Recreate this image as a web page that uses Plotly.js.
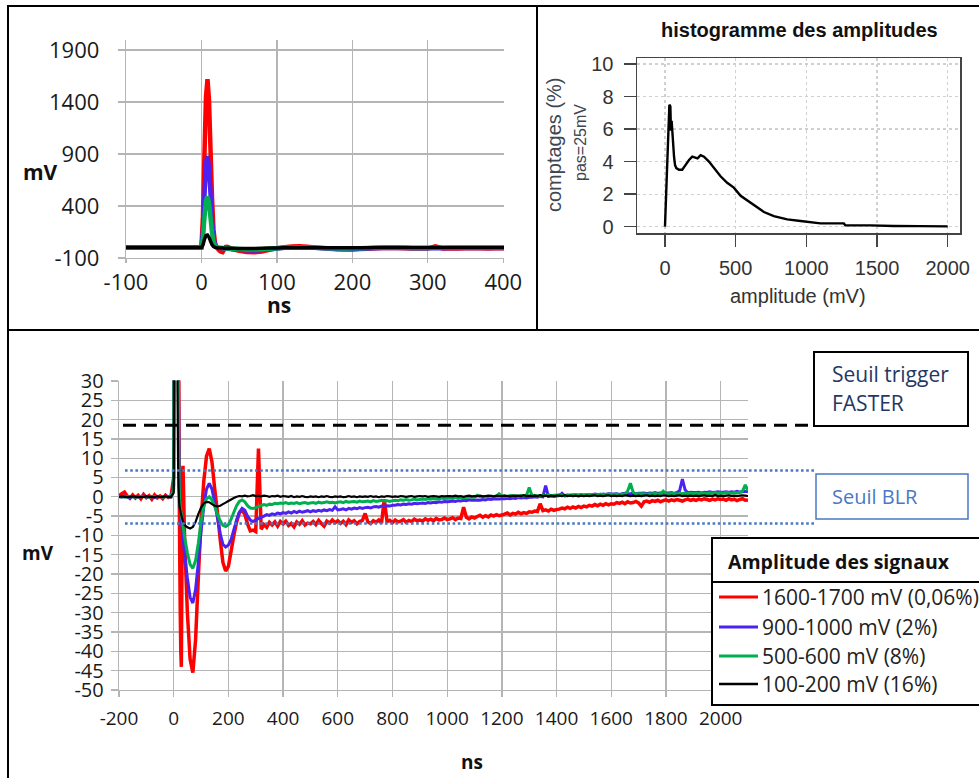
<!DOCTYPE html>
<html><head><meta charset="utf-8">
<script src="https://cdn.plot.ly/plotly-3.0.1.min.js"></script>
<style>html,body{margin:0;padding:0;background:#fff}#chart{width:979px;height:778px}</style>
</head><body><div id="chart"></div>
<script>
// ---------- DATA ----------
const timeNs = [
-200,-190,-180,-170,-160,-150,-140,-130,-120,-110,-100,-90,-80,-70,-60,-50,-40,-30,-20,-10,
0,2,4,6,8,10,12,14,16,18,20,22,24,26,28,30,32,34,36,38,40,
50,60,70,80,90,100,110,120,130,140,150,160,170,180,190,200,210,220,230,240,
250,260,270,280,290,300,310,320,330,340,350,360,370,380,390,400,
410,420,430,440,450,460,470,480,490,500,510,520,530,540,550,560,570,580,590,600,
610,620,630,640,650,660,670,680,690,700,710,720,730,740,750,760,770,780,790,800,
810,820,830,840,850,860,870,880,890,900,910,920,930,940,950,960,970,980,990,1000,
1010,1020,1030,1040,1050,1060,1070,1080,1090,1100,1110,1120,1130,1140,1150,1160,1170,1180,1190,1200,
1210,1220,1230,1240,1250,1260,1270,1280,1290,1300,1310,1320,1330,1340,1350,1360,1370,1380,1390,1400,
1410,1420,1430,1440,1450,1460,1470,1480,1490,1500,1510,1520,1530,1540,1550,1560,1570,1580,1590,1600,
1610,1620,1630,1640,1650,1660,1670,1680,1690,1700,1710,1720,1730,1740,1750,1760,1770,1780,1790,1800,
1810,1820,1830,1840,1850,1860,1870,1880,1890,1900,1910,1920,1930,1940,1950,1960,1970,1980,1990,2000,
2010,2020,2030,2040,2050,2060,2070,2080,2090,2100];

const red1600 = [
0.3,0.8,1.2,0.2,-0.4,0.5,-0.3,0.4,-0.5,0.6,-0.2,0.3,-0.6,0.5,-0.3,0.2,-0.5,0.4,-0.2,0.1,
5,300,900,1450,1620,1420,950,480,170,45,5,-15,-30,-40,-44,-20,6,8,2,-5,-11,
-30,-42,-45.5,-37,-21,-6,4,10.5,12.5,9,2,-4,-11,-17,-19.2,-18,-14,-10,-6.5,-4.2,
-3.4,-4.5,-7,-8.8,-8.6,-9,12.5,-8.4,-7.2,-7.9,-6.6,-7.3,-6.5,-7.6,-6.4,-7.0,
-6.3,-7.4,-6.9,-7.8,-6.5,-7.1,-6.2,-7.3,-6.8,-7.0,-6.4,-7.2,-6.1,-6.9,-7.6,-6.3,-6.8,-6.0,-6.7,-6.2,
-6.9,-6.3,-7.2,-6.0,-6.6,-6.2,-7.0,-6.4,-6.1,-4.3,-6.5,-6.9,-6.2,-6.6,-6.0,-6.8,-0.6,-6.4,-6.1,-6.7,
-6.0,-6.5,-6.3,-5.9,-6.6,-6.1,-6.4,-5.8,-6.2,-6.0,-6.3,-5.7,-6.1,-5.8,-6.2,-5.6,-6.0,-5.9,-5.5,-5.9,
-5.7,-5.4,-5.9,-5.5,-5.6,-2.7,-5.3,-5.7,-5.2,-5.5,-5.1,-4.8,-5.3,-4.9,-5.2,-4.7,-5.0,-4.6,-4.9,-4.7,
-4.5,-4.2,-4.7,-4.3,-4.5,-4.0,-4.4,-4.1,-4.3,-3.9,-4.0,-3.7,-3.8,-1.8,-3.6,-3.4,-3.7,-3.2,-3.5,-3.3,
-3.2,-2.9,-3.1,-2.7,-3.0,-2.6,-2.9,-2.5,-2.8,-2.4,-2.6,-2.2,-2.4,-2.0,-2.3,-1.9,-2.2,-1.8,-2.1,-1.8,
-1.9,-1.5,-1.7,-1.4,-1.8,-1.3,-1.6,-1.5,-1.2,-1.6,-2.4,-1.3,-1.1,-1.4,-1.0,-1.2,-0.9,-1.3,-1.0,-0.8,
-1.1,-0.8,-1.0,-0.7,-0.9,-1.1,-0.8,-0.6,-0.9,-0.7,-0.9,-0.6,-0.8,-0.5,-0.7,-0.9,-0.6,-0.8,-0.5,-0.7,
-0.6,-0.9,-0.5,-0.8,-0.6,-1.0,-0.7,-0.5,-0.9,-0.8];

const blue900 = [
0.1,-0.1,0.2,0,-0.2,0.1,0,-0.1,0.1,0.2,-0.1,0,0.1,-0.2,0,0.1,-0.1,0.2,0,-0.1,
3,160,500,800,880,770,520,260,95,28,6,-1,-3,-4.5,-6,-7.5,-9,-10.5,-12,-13.5,-15,
-21,-26,-27.5,-24,-17,-9,-2.5,2,3.5,2,-1.5,-5.5,-9.5,-12.3,-13,-12.5,-11,-8.5,-6,-4,
-3,-3.5,-5,-6,-6.4,-6.0,-5.6,-5.3,-5.0,-4.6,-4.8,-4.4,-4.6,-4.2,-4.4,-4.1,
-4.3,-3.9,-4.2,-3.8,-4.1,-3.7,-4.0,-3.8,-3.6,-3.9,-3.6,-3.8,-3.5,-3.7,-3.4,-3.6,-3.3,-3.5,-2.6,-3.4,
-3.3,-3.1,-3.4,-3.0,-3.2,-2.9,-3.1,-2.8,-3.0,-2.8,-2.7,-2.9,-2.6,-2.5,-2.7,-2.4,-2.5,-2.3,-2.4,-2.2,
-2.2,-2.0,-2.1,-1.9,-2.0,-1.8,-1.9,-1.7,-1.8,-1.7,-1.6,-1.7,-1.5,-1.6,-1.4,-1.5,-1.3,-1.4,-1.2,-1.3,
-1.2,-1.1,-1.2,-1.0,-1.1,-0.9,-1.0,-0.8,-0.9,-0.9,-0.8,-0.9,-0.7,-0.8,-0.6,-0.7,-0.5,-0.6,-0.6,-0.5,
-0.5,-0.4,-0.5,-0.3,-0.4,-0.2,-0.3,-0.2,-0.3,-0.1,-0.1,0.0,-0.1,0.1,0.0,2.9,0.1,0.2,0.1,0.2,
0.3,0.9,0.2,0.3,0.4,0.3,0.5,0.4,0.5,0.4,0.5,0.6,0.5,0.7,0.6,0.5,0.7,0.6,0.8,0.7,
0.7,0.8,0.6,0.8,0.9,0.7,0.8,0.9,0.8,0.9,0.9,1.0,0.8,1.0,0.9,1.1,0.9,1.0,1.1,1.0,
1.0,1.1,0.9,1.1,1.6,4.6,1.8,1.0,1.2,1.1,1.1,1.2,1.0,1.2,1.1,1.3,1.1,1.2,1.3,1.2,
1.2,1.3,1.1,1.3,1.2,1.4,1.2,1.3,1.4,1.3];

const green500 = [
0,0.1,-0.1,0,0.1,0,-0.1,0,0.1,0,0,-0.1,0.1,0,0,0.1,-0.1,0,0.1,0,
2,95,290,450,490,430,290,145,55,15,3,-1,-2.5,-3.5,-4.5,-5.5,-6.5,-7.5,-8.5,-9.5,-10.5,
-14.5,-17.5,-18.5,-16.5,-12,-6.5,-2.5,-0.5,0,-0.8,-2.5,-4.5,-6.2,-7.4,-7.7,-7.2,-5.8,-4,-2.3,-1.2,
-0.8,-1.3,-2.3,-2.9,-3.0,-2.8,-2.5,-2.3,-2.0,-2.2,-1.9,-2.0,-1.7,-1.8,-1.6,-1.7,
-1.5,-1.8,-1.6,-1.7,-1.5,-1.8,-1.6,-1.5,-1.7,-1.6,-1.5,-1.7,-1.4,-1.6,-1.5,-1.3,-1.5,-1.4,-1.6,-1.4,
-1.3,-1.5,-1.2,-1.4,-1.3,-1.2,-1.4,-1.1,-1.3,-1.2,-1.1,-1.3,-1.0,-1.2,-1.1,-0.9,-1.1,-1.0,-1.2,-1.0,
-0.9,-1.0,-0.8,-0.9,-0.7,-0.9,-0.8,-0.6,-0.8,-0.7,-0.6,-0.7,-0.5,-0.6,-0.4,-0.6,-0.5,-0.3,-0.5,-0.4,
-0.3,-0.4,-0.2,-0.3,-0.1,-0.3,-0.2,0.0,-0.1,-0.1,0.4,0.0,0.1,-0.1,0.1,0.2,0.0,0.1,0.8,0.2,
0.2,0.1,0.3,0.2,0.3,0.1,0.3,0.2,0.4,2.4,0.3,0.4,0.2,0.3,0.4,0.3,0.5,0.3,0.4,0.4,
0.5,0.4,0.3,0.5,0.4,0.6,0.4,0.5,0.6,0.5,0.5,0.6,0.4,0.6,0.5,0.7,0.5,0.6,0.7,0.6,
0.6,0.7,0.5,0.7,0.6,1.5,3.5,1.2,0.7,0.8,0.7,0.8,0.6,0.8,0.7,0.9,0.7,0.8,1.5,0.8,
0.7,0.9,0.8,0.7,0.9,0.8,1.0,0.8,0.9,0.8,0.9,0.8,1.0,0.9,0.8,1.0,0.9,1.1,0.9,1.0,
0.9,1.1,1.0,0.9,1.1,1.0,1.2,1.5,3.1,1.6];

const black100 = [
0,0.1,0,-0.1,0,0.1,0,0,-0.1,0,0.1,0,0,-0.1,0.1,0,0,0.1,0,0,
1,25,80,118,122,100,62,28,9,2,-1.5,-2.8,-3.5,-4.2,-4.8,-5.3,-5.8,-6.3,-6.7,-7.0,-7.3,
-7.9,-8.2,-7.8,-6.5,-4.5,-2.8,-1.7,-1.3,-1.4,-1.9,-2.3,-2.5,-2.3,-1.9,-1.5,-1.1,-0.7,-0.3,0,0.2,
0.1,0.3,0.1,0.2,0.4,0.2,0.3,0.1,0.3,0.2,0.0,0.2,0.1,0.3,0.0,0.2,
0.1,0.0,0.2,-0.1,0.1,0.0,0.2,0.0,-0.1,0.1,0.0,0.1,-0.1,0.1,0.0,0.2,0.0,-0.1,0.1,0.0,
0.1,-0.1,0.0,0.2,0.0,0.1,-0.1,0.1,0.0,0.1,0.0,0.2,0.0,0.1,-0.1,0.1,0.0,0.2,0.1,0.0,
0.1,0.0,0.2,0.1,0.0,0.1,0.2,0.0,0.1,0.2,0.1,0.2,0.0,0.1,0.2,0.1,0.0,0.2,0.1,0.2,
0.2,0.1,0.3,0.1,0.2,0.0,0.2,0.3,0.1,0.2,0.2,0.3,0.1,0.2,0.3,0.2,0.1,0.3,0.2,0.2,
0.3,0.2,0.1,0.3,0.2,0.3,0.2,0.4,0.2,0.3,0.2,0.3,0.2,0.4,0.2,0.3,0.1,0.3,0.2,0.3,
0.3,0.2,0.4,0.2,0.3,0.2,0.3,0.1,0.3,0.2,0.3,0.2,0.3,0.4,0.2,0.3,0.2,0.3,0.4,0.2,
0.3,0.2,0.3,0.2,0.4,0.3,0.2,0.3,0.2,0.3,0.2,0.3,0.4,0.2,0.3,0.2,0.3,0.2,0.4,0.3,
0.2,0.3,0.2,0.3,0.4,0.2,0.3,0.2,0.3,0.2,0.3,0.2,0.3,0.4,0.2,0.3,0.2,0.5,0.2,0.3,
0.2,0.3,0.4,0.2,0.3,0.2,0.3,0.4,0.3,0.2];

const seriesNames = ['1600-1700 mV (0,06%)','900-1000 mV (2%)','500-600 mV (8%)','100-200 mV (16%)'];
const seriesColors = ['#ff0000','#4b22f2','#00b050','#000000'];
const seriesValues = [red1600, blue900, green500, black100];

const histAmplitudeMv = [0,7,12,19,26,31,38,42,47,54,64,71,80,99,122,146,170,193,217,230,252,276,311,346,393,440,487,535,582,629,700,770,865,959,1053,1100,1265,1276,1453,1594,1617,1800,2000];
const histCountPct    = [0,1.6,3.7,5.5,5.9,7.5,7.4,5.9,6.5,5.3,4.3,3.8,3.6,3.5,3.5,3.8,4.1,4.3,4.25,4.2,4.4,4.3,4.0,3.6,3.1,2.7,2.4,1.9,1.6,1.3,0.9,0.65,0.45,0.35,0.25,0.2,0.2,0.08,0.08,0.08,0.04,0.03,0.02];

const triggerThresholdMv = 18.5;
const blrThresholdsMv = [6.8, -6.9];

const topXTicks = [-100,0,100,200,300,400];
const topYTicks = [-100,400,900,1400,1900];
const mainXTicks = [-200,0,200,400,600,800,1000,1200,1400,1600,1800,2000];
const mainYTicks = [-50,-45,-40,-35,-30,-25,-20,-15,-10,-5,0,5,10,15,20,25,30];
const histXTicks = [0,500,1000,1500,2000];
const histYTicks = [0,2,4,6,8,10];

// ---------- LAYOUT HELPERS ----------
const W = 979, H = 778;
const px = x => x / W;
const py = y => 1 - y / H;
const XL = 'Open Sans, Liberation Sans, sans-serif';
const RF = 'Liberation Sans, Arial, sans-serif';
const gridC = '#b5b5b5';
const txt = ticks => ticks.map(v => String(v));

const traces = [];
seriesValues.forEach((vals, i) => {
  traces.push({x: timeNs, y: vals, xaxis: 'x', yaxis: 'y', type: 'scatter', mode: 'lines',
    line: {color: seriesColors[i], width: i === 3 ? 3.5 : 4.5, simplify: false}, hoverinfo: 'skip'});
});
seriesValues.forEach((vals, i) => {
  traces.push({x: timeNs, y: vals, xaxis: 'x2', yaxis: 'y2', type: 'scatter', mode: 'lines',
    line: {color: seriesColors[i], width: i === 0 ? 3.5 : (i === 3 ? 2.2 : 3), simplify: false}, hoverinfo: 'skip'});
});
traces.push({x: histAmplitudeMv, y: histCountPct, xaxis: 'x3', yaxis: 'y3', type: 'scatter', mode: 'lines',
  line: {color: '#000', width: 2.4}, hoverinfo: 'skip'});

const excelAxis = (extra) => Object.assign({
  showgrid: true, gridcolor: gridC, gridwidth: 1.3, zeroline: false,
  showline: true, linecolor: gridC, linewidth: 1.3,
  ticks: 'outside', tickcolor: gridC, tickwidth: 1.3, fixedrange: true
}, extra);

const layout = {
  width: W, height: H, margin: {l: 0, r: 0, t: 0, b: 0},
  paper_bgcolor: '#fff', plot_bgcolor: 'rgba(0,0,0,0)', showlegend: false,
  font: {family: XL, color: '#1a1a1a'},
  xaxis: excelAxis({domain: [px(126), px(504)], range: [-100, 401], tickvals: topXTicks, ticktext: txt(topXTicks), anchor: 'y',
    ticklen: 4, ticklabelstandoff: 0, tickfont: {family: XL, size: 22, color: '#1a1a1a'}}),
  yaxis: excelAxis({domain: [py(258), py(39.6)], range: [-100, 2000], tickvals: topYTicks, ticktext: txt(topYTicks), anchor: 'x',
    ticklen: 7, ticklabelstandoff: 14, tickfont: {family: XL, size: 22, color: '#1a1a1a'}}),
  xaxis2: excelAxis({domain: [px(119), px(748)], range: [-200, 2100], tickvals: mainXTicks, ticktext: txt(mainXTicks), anchor: 'y2',
    ticklen: 6, ticklabelstandoff: 5, tickfont: {family: XL, size: 19, color: '#1a1a1a'}}),
  yaxis2: excelAxis({domain: [py(690), py(380.5)], range: [-50, 30.1], tickvals: mainYTicks, ticktext: txt(mainYTicks), anchor: 'x2',
    ticklen: 7, ticklabelstandoff: 3, tickfont: {family: XL, size: 20, color: '#1a1a1a'}}),
  xaxis3: {domain: [px(637), px(960)], range: [-198, 2087], tickvals: histXTicks, ticktext: txt(histXTicks), anchor: 'y3',
    showgrid: true, gridcolor: '#d0d0d0', griddash: 'dot', gridwidth: 1.2, zeroline: false,
    showline: true, mirror: true, linecolor: '#444', linewidth: 1.5,
    ticks: 'outside', ticklen: 12, tickcolor: '#444', tickwidth: 1.5, ticklabelstandoff: 4,
    tickfont: {family: RF, size: 20, color: '#333'}, fixedrange: true},
  yaxis3: {domain: [py(233), py(58)], range: [-0.39, 10.37], tickvals: histYTicks, ticktext: txt(histYTicks), anchor: 'x3',
    showgrid: true, gridcolor: '#d0d0d0', griddash: 'dot', gridwidth: 1.2, zeroline: false,
    showline: true, mirror: true, linecolor: '#444', linewidth: 1.5,
    ticks: 'outside', ticklen: 12, tickcolor: '#444', tickwidth: 1.5, ticklabelstandoff: 6,
    tickfont: {family: RF, size: 20, color: '#333'}, fixedrange: true},
  shapes: [],
  annotations: []
};

const S = layout.shapes, A = layout.annotations;
const note = (x, y, text, font, extra) => A.push(Object.assign({xref: 'paper', yref: 'paper', x: px(x), y: py(y),
  xanchor: 'center', yanchor: 'middle', showarrow: false, text: text, font: font}, extra || {}));

// panel borders
S.push({type: 'rect', xref: 'paper', yref: 'paper', x0: px(8), x1: px(537), y0: py(330), y1: py(6), line: {color: '#000', width: 2}});
S.push({type: 'line', xref: 'paper', yref: 'paper', x0: px(537), x1: px(979), y0: py(6), y1: py(6), line: {color: '#000', width: 2}});
S.push({type: 'line', xref: 'paper', yref: 'paper', x0: px(8), x1: px(979), y0: py(330), y1: py(330), line: {color: '#000', width: 2}});
S.push({type: 'line', xref: 'paper', yref: 'paper', x0: px(8), x1: px(8), y0: py(330), y1: py(779), line: {color: '#000', width: 2}});

// threshold lines (bottom chart)
S.push({type: 'line', xref: 'paper', yref: 'y2', x0: px(123), x1: px(813), y0: triggerThresholdMv, y1: triggerThresholdMv,
  line: {color: '#000', width: 3, dash: '13px,8px'}});
blrThresholdsMv.forEach(v => S.push({type: 'line', xref: 'paper', yref: 'y2', x0: px(125), x1: px(815), y0: v, y1: v,
  line: {color: '#4a78c4', width: 2.6, dash: '2.6px,2.6px'}}));

// text boxes
S.push({type: 'rect', xref: 'paper', yref: 'paper', x0: px(814), x1: px(968), y0: py(426), y1: py(352), fillcolor: '#fff', line: {color: '#000', width: 2}});
S.push({type: 'rect', xref: 'paper', yref: 'paper', x0: px(816), x1: px(968), y0: py(519), y1: py(474), fillcolor: '#fff', line: {color: '#4a78c4', width: 1.5}});
note(830, 374, 'Seuil trigger', {family: XL, size: 21, color: '#1f3864'}, {xanchor: 'left'});
note(830, 403, 'FASTER', {family: XL, size: 21, color: '#1f3864'}, {xanchor: 'left'});
note(830, 496, 'Seuil BLR', {family: XL, size: 20, color: '#4a78c4'}, {xanchor: 'left'});

// legend box
S.push({type: 'rect', xref: 'paper', yref: 'paper', x0: px(712), x1: px(982), y0: py(705), y1: py(538), fillcolor: '#fff', line: {color: '#000', width: 2}});
S.push({type: 'line', xref: 'paper', yref: 'paper', x0: px(712), x1: px(982), y0: py(582), y1: py(582), line: {color: '#000', width: 2}});
note(726, 561, '<b>Amplitude des signaux</b>', {family: XL, size: 19.5, color: '#111'}, {xanchor: 'left'});
const legendRows = [597, 627, 656, 684];
seriesNames.forEach((name, i) => {
  S.push({type: 'line', xref: 'paper', yref: 'paper', x0: px(719), x1: px(758), y0: py(legendRows[i]), y1: py(legendRows[i]),
    line: {color: seriesColors[i], width: i === 3 ? 2.5 : 3}});
  note(760, legendRows[i], name, {family: XL, size: 21, color: '#222'}, {xanchor: 'left'});
});

// axis titles
note(40, 172, '<b>mV</b>', {family: XL, size: 21, color: '#111'});
note(279, 305, '<b>ns</b>', {family: XL, size: 21, color: '#111'});
note(38, 553, '<b>mV</b>', {family: XL, size: 19, color: '#111'});
note(472, 762, '<b>ns</b>', {family: XL, size: 19, color: '#111'});

// histogram texts
note(799, 30, '<b>histogramme des amplitudes</b>', {family: RF, size: 20, color: '#111'});
note(798, 296, 'amplitude (mV)', {family: RF, size: 20, color: '#333'});
note(554, 145, 'comptages (%)', {family: RF, size: 20, color: '#3d4752'}, {textangle: -90});
note(580, 143, 'pas=25mV', {family: RF, size: 16, color: '#3d4752'}, {textangle: -90});

Plotly.newPlot('chart', traces, layout, {staticPlot: true, displayModeBar: false});
</script>
</body></html>
